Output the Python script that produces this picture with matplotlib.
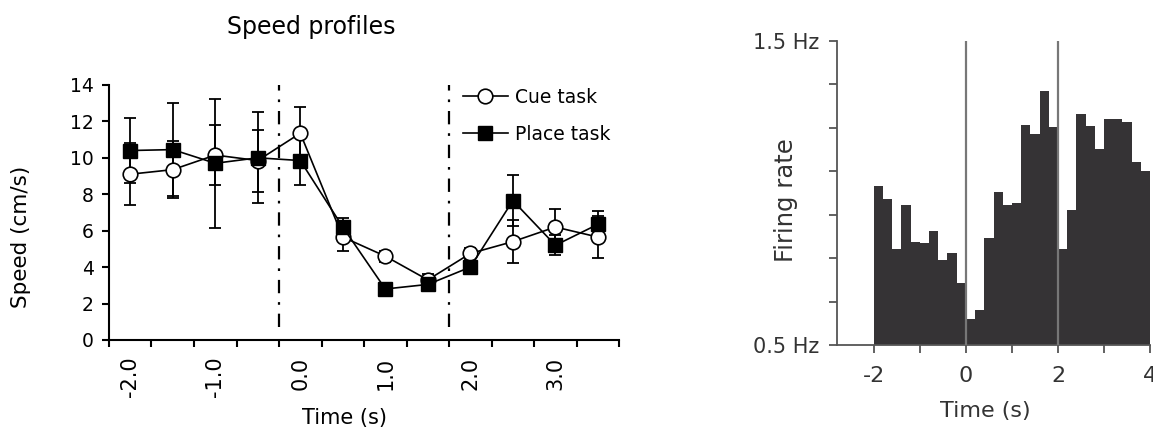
import matplotlib
matplotlib.use("Agg")
import matplotlib.pyplot as plt
import numpy as np

plt.rcParams["font.family"] = ["DejaVu Sans"]

# speed profiles (cm/s), bins of 0.5 s
time_s = [-2.0, -1.5, -1.0, -0.5, 0.0, 0.5, 1.0, 1.5, 2.0, 2.5, 3.0, 3.5]
cue_speed = [9.1, 9.35, 10.15, 9.85, 11.35, 5.65, 4.6, 3.3, 4.75, 5.4, 6.2, 5.65]
cue_err = [1.7, 1.55, 1.65, 1.7, 1.45, 0.75, 0.3, 0.3, 0.3, 1.2, 1.0, 1.15]
place_speed = [10.4, 10.45, 9.7, 10.0, 9.85, 6.2, 2.8, 3.05, 4.0, 7.65, 5.2, 6.35]
place_err = [1.8, 2.55, 3.55, 2.5, 1.35, 0.5, 0.2, 0.2, 0.2, 1.4, 0.55, 0.75]
speed_xticklabels = ["-2.0", "-1.0", "0.0", "1.0", "2.0", "3.0"]
event_times = [-0.25, 1.75]

# firing rate histogram (Hz), bins of 0.2 s from -2 to 4
bin_edges = np.round(np.arange(-2.0, 4.01, 0.2), 2)
firing_rate = [1.022, 0.979, 0.815, 0.960, 0.839, 0.834, 0.875, 0.779, 0.803, 0.705,
               0.584, 0.615, 0.851, 1.002, 0.960, 0.966, 1.223, 1.193, 1.336, 1.215,
               0.815, 0.944, 1.259, 1.221, 1.143, 1.242, 1.242, 1.234, 1.102, 1.073]
marker_times = [0, 2]

fig = plt.figure(figsize=(11.53, 4.34), dpi=100)

# ---- left: speed profiles
ax = fig.add_axes([0.0945, 0.2166, 0.4425, 0.5877])
ax.errorbar(time_s, cue_speed, yerr=cue_err, fmt="none", ecolor="black", elinewidth=1.3, capsize=4, capthick=1.3, zorder=2)
ax.errorbar(time_s, place_speed, yerr=place_err, fmt="none", ecolor="black", elinewidth=1.3, capsize=4, capthick=1.3, zorder=2)
ax.plot(time_s, cue_speed, "-o", color="black", lw=1.2, ms=10.5, mfc="white", mec="black", mew=1.2, label="Cue task", zorder=3)
ax.plot(time_s, place_speed, "-s", color="black", lw=1.2, ms=9.5, mfc="black", mec="black", label="Place task", zorder=4)
for t in event_times:
    ax.plot([t, t], [0.7, 14], color="black", lw=1.6, ls=(0, (6, 4, 1.2, 4)), zorder=1)

ax.set_xlim(-2.25, 3.75)
ax.set_ylim(0, 14)
ax.set_xticks(np.arange(-2.25, 3.76, 0.5))
ax.set_xticklabels([])
ax.set_xticks(np.arange(-2.0, 3.1, 1.0), speed_xticklabels, minor=True)
ax.tick_params(axis="x", which="minor", length=0, pad=12, labelrotation=90, labelsize=15)
ax.tick_params(axis="x", which="major", length=5, width=1.5, direction="out")
ax.set_yticks(range(0, 15, 2))
ax.tick_params(axis="y", length=5, width=1.5, labelsize=13.5, pad=6)
for s in ["top", "right"]:
    ax.spines[s].set_visible(False)
for s in ["left", "bottom"]:
    ax.spines[s].set_linewidth(1.5)

ax.legend(loc="upper left", bbox_to_anchor=(0.66, 1.055), frameon=False, fontsize=13.5,
          handlelength=2.4, handletextpad=0.4, labelspacing=0.95, numpoints=1)

fig.text(311 / 1153, 1 - 27 / 434, "Speed profiles", ha="center", va="center", fontsize=17)
fig.text(344 / 1153, 1 - 418 / 434, "Time (s)", ha="center", va="center", fontsize=15)
fig.text(21 / 1153, 1 - 237 / 434, "Speed (cm/s)", ha="center", va="center", rotation=90, fontsize=15.5)

# ---- right: firing rate histogram
gray = "#555555"
ax2 = fig.add_axes([837 / 1153, 1 - 345 / 434, 313 / 1153, 304.3 / 434])
ax2.stairs(firing_rate, bin_edges, baseline=0.5, fill=True, color="#353335")
for t in marker_times:
    ax2.axvline(t, color="#777777", lw=1.6, zorder=3)
ax2.set_xlim(-2.8, 4)
ax2.set_ylim(0.5, 1.5)
ax2.set_xticks([-2, -1, 0, 1, 2, 3, 4], ["-2", "", "0", "", "2", "", "4"])
ax2.set_yticks(np.linspace(0.5, 1.5, 8), ["0.5 Hz", "", "", "", "", "", "", "1.5 Hz"])
ax2.tick_params(axis="both", colors=gray, labelcolor="#333333", length=6, width=1.3)
ax2.tick_params(axis="x", labelsize=16, pad=9)
ax2.tick_params(axis="y", labelsize=15, pad=7)
for s in ["top", "right"]:
    ax2.spines[s].set_visible(False)
for s in ["left", "bottom"]:
    ax2.spines[s].set_color(gray)
    ax2.spines[s].set_linewidth(1.3)

fig.text(786 / 1153, 1 - 200 / 434, "Firing rate", ha="center", va="center", rotation=90, fontsize=17.5, color="#333333")
fig.text(985 / 1153, 1 - 411 / 434, "Time (s)", ha="center", va="center", fontsize=16, color="#333333")

fig.savefig("out.png", dpi=100)
